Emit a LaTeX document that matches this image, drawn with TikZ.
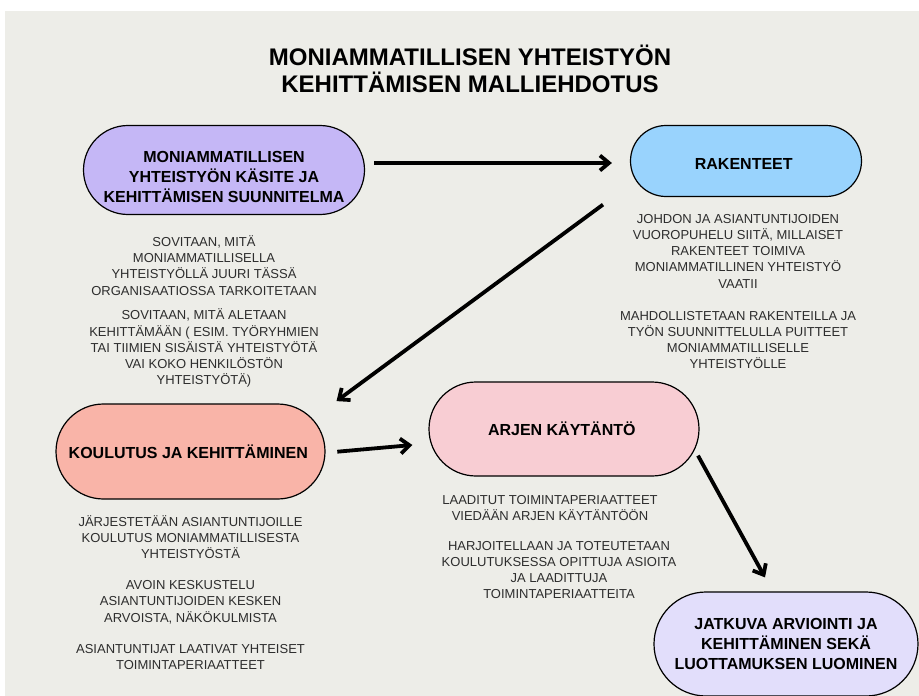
\documentclass[tikz,border=0pt]{standalone}
\usepackage{fontspec}
\setmainfont{Liberation Sans}
\usetikzlibrary{shapes.misc,arrows.meta,calc}

\definecolor{bg}{RGB}{237,237,232}
\definecolor{planfill}{RGB}{197,183,246}
\definecolor{rakfill}{RGB}{153,211,253}
\definecolor{koulfill}{RGB}{249,180,168}
\definecolor{arjfill}{RGB}{248,205,211}
\definecolor{jatfill}{RGB}{226,222,251}
\definecolor{txtgray}{RGB}{45,45,45}

\tikzset{
	box/.style={ rounded rectangle, draw=black, line width=1.2pt, align=center, inner sep=0pt,
		font=\fontsize{16}{20}\selectfont\bfseries },
	note/.style={ align=center, text=txtgray, inner sep=0pt, font=\fontsize{13}{16.2}\selectfont },
	arr/.style={ line width=3.8pt, -{Straight Barb[length=9pt,width=15pt]} }
}

\begin{document}
\begin{tikzpicture}[ x=1pt, y=-1pt ]
	  \useasboundingbox (0,0) rectangle (919,696);
	  \fill [ white ] (0,0) rectangle (919,696);
	  \fill [ bg ] (5,11) rectangle (919,696);

	  \node [ align=center, font=\fontsize{24}{27}\selectfont\bfseries ] (title) at (470,69)
	    { MONIAMMATILLISEN YHTEISTYÖN\\ KEHITTÄMISEN MALLIEHDOTUS };

	  \node [ box, fill=planfill, minimum width=281pt, minimum height=89pt ] (plan) at (224,170)
	    { \rule{0pt}{25pt}MONIAMMATILLISEN\\ YHTEISTYÖN KÄSITE JA\\ KEHITTÄMISEN SUUNNITELMA };
	  \node [ box, fill=rakfill, minimum width=231pt, minimum height=71pt ] (rak) at (746,161)
	    { \rule{0pt}{16pt}RAKENTEET };
	  \node [ box, fill=koulfill, minimum width=269pt, minimum height=95pt ] (koul) at (190.5,451.5)
	    { KOULUTUS JA KEHITTÄMINEN };
	  \node [ box, fill=arjfill, minimum width=270pt, minimum height=94pt ] (arj) at (564,429)
	    { ARJEN KÄYTÄNTÖ };
	  \node [ box, fill=jatfill, minimum width=264pt, minimum height=104pt ] (jat) at (786,644)
	    { JATKUVA ARVIOINTI JA\\ KEHITTÄMINEN SEKÄ\\ LUOTTAMUKSEN LUOMINEN };

	  \node [ note ] (plantxt) at (204,311.5)
	    { SOVITAAN, MITÄ\\ MONIAMMATILLISELLA\\ YHTEISTYÖLLÄ JUURI TÄSSÄ\\ ORGANISAATIOSSA TARKOITETAAN\\[8.7pt]
	      SOVITAAN, MITÄ ALETAAN\\ KEHITTÄMÄÄN ( ESIM. TYÖRYHMIEN\\ TAI TIIMIEN SISÄISTÄ YHTEISTYÖTÄ\\
	      VAI KOKO HENKILÖSTÖN\\ YHTEISTYÖTÄ) };
	  \node [ note ] (raktxt) at (738,291.7)
	    { JOHDON JA ASIANTUNTIJOIDEN\\ VUOROPUHELU SIITÄ, MILLAISET\\ RAKENTEET TOIMIVA\\
	      MONIAMMATILLINEN YHTEISTYÖ\\ VAATII\\[16pt]
	      MAHDOLLISTETAAN RAKENTEILLA JA\\ TYÖN SUUNNITTELULLA PUITTEET\\ MONIAMMATILLISELLE\\ YHTEISTYÖLLE };
	  \node [ note ] (koultxt) at (190.5,592.4)
	    { JÄRJESTETÄÄN ASIANTUNTIJOILLE\\ KOULUTUS MONIAMMATILLISESTA\\ YHTEISTYÖSTÄ\\[15pt]
	      AVOIN KESKUSTELU\\ ASIANTUNTIJOIDEN KESKEN\\ ARVOISTA, NÄKÖKULMISTA\\[15pt]
	      ASIANTUNTIJAT LAATIVAT YHTEISET\\ TOIMINTAPERIAATTEET };
	  \node [ note ] (arjtxt) at (550,507.7)
	    { LAADITUT TOIMINTAPERIAATTEET\\ VIEDÄÄN ARJEN KÄYTÄNTÖÖN };
	  \node [ note ] (arjtxtb) at (559,570)
	    { HARJOITELLAAN JA TOTEUTETAAN\\ KOULUTUKSESSA OPITTUJA ASIOITA\\ JA LAADITTUJA\\ TOIMINTAPERIAATTEITA };

	  \draw [ arr ] ($(plan.east)+(9,-7)$) -- ($(rak.west)+(-18,2)$);
	  \draw [ arr ] ($(rak.south)+(-143,7.5)$) -- ($(koul.north)+(146,-2.3)$);
	  \draw [ arr ] ($(koul.east)+(11.7,0.2)$) -- ($(arj.west)+(-16,16)$);
	  \draw [ arr ] ($(arj.south)+(134,-21)$) -- ($(jat.north)+(-21,-14)$);

	\end{tikzpicture}
\end{document}
